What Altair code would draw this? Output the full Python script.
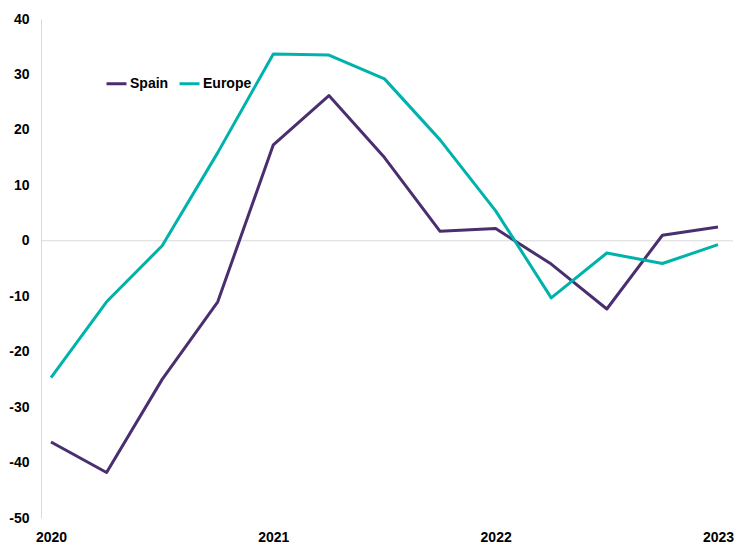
import altair as alt
import pandas as pd

quarters = list(range(13))
year_ticks = [0, 4, 8, 12]
year_labels = ["2020", "2021", "2022", "2023"]
spain = [-36.3, -41.8, -25.0, -11.0, 17.3, 26.2, 15.0, 1.7, 2.2, -4.2, -12.3, 1.0, 2.5]
europe = [-24.7, -11.0, -0.9, 15.9, 33.7, 33.5, 29.2, 18.2, 5.4, -10.3, -2.2, -4.1, -0.7]
series = ["Spain", "Europe"]
colors = ["#4B2E6F", "#00B2AC"]

rows = []
for name, vals in zip(series, [spain, europe]):
    for q, v in zip(quarters, vals):
        rows.append({"q": q, "value": v, "series": name})
df = pd.DataFrame(rows)

label_expr = "({" + ",".join(f"'{t}':'{l}'" for t, l in zip(year_ticks, year_labels)) + "})[datum.value]"

x_scale = alt.Scale(domain=[-0.18, 12.27], nice=False, zero=False)
y_scale = alt.Scale(domain=[-50, 40], nice=False)

zero = alt.Chart(pd.DataFrame({"y": [0]})).mark_rule(color="#D9D9D9", strokeWidth=1).encode(
    y=alt.Y("y:Q", scale=y_scale)
)

lines = alt.Chart(df).mark_line(strokeWidth=3, strokeJoin="round").encode(
    x=alt.X("q:Q", scale=x_scale,
            axis=alt.Axis(values=year_ticks, labelExpr=label_expr, title=None, domain=False,
                          ticks=False, grid=False, labelFont="Liberation Sans", labelFontWeight="bold",
                          labelFontSize=14, labelColor="#000000", labelPadding=12)),
    y=alt.Y("value:Q", scale=y_scale,
            axis=alt.Axis(values=list(range(-50, 41, 10)), labelExpr="'' + datum.value", title=None,
                          domain=True, domainColor="#D9D9D9",
                          ticks=False, grid=False, labelFont="Liberation Sans", labelFontWeight="bold",
                          labelFontSize=14, labelColor="#000000", labelPadding=12)),
    color=alt.Color("series:N", scale=alt.Scale(domain=series, range=colors),
                    legend=alt.Legend(title=None, orient="none", legendX=64, legendY=53,
                                      direction="horizontal", symbolType="stroke", symbolSize=400,
                                      symbolStrokeWidth=3, labelFont="Liberation Sans",
                                      labelFontWeight="bold", labelFontSize=14, labelColor="#000000",
                                      labelOffset=2, columnPadding=4, padding=0)),
    order="q:Q",
)

chart = alt.layer(zero, lines).properties(
    width=692, height=499,
    autosize=alt.AutoSizeParams(type="none"),
    padding={"left": 33, "top": 11, "right": 6, "bottom": 26},
).configure_view(stroke=None)

chart.save("out.html", embed_options={"renderer": "svg", "actions": False})
